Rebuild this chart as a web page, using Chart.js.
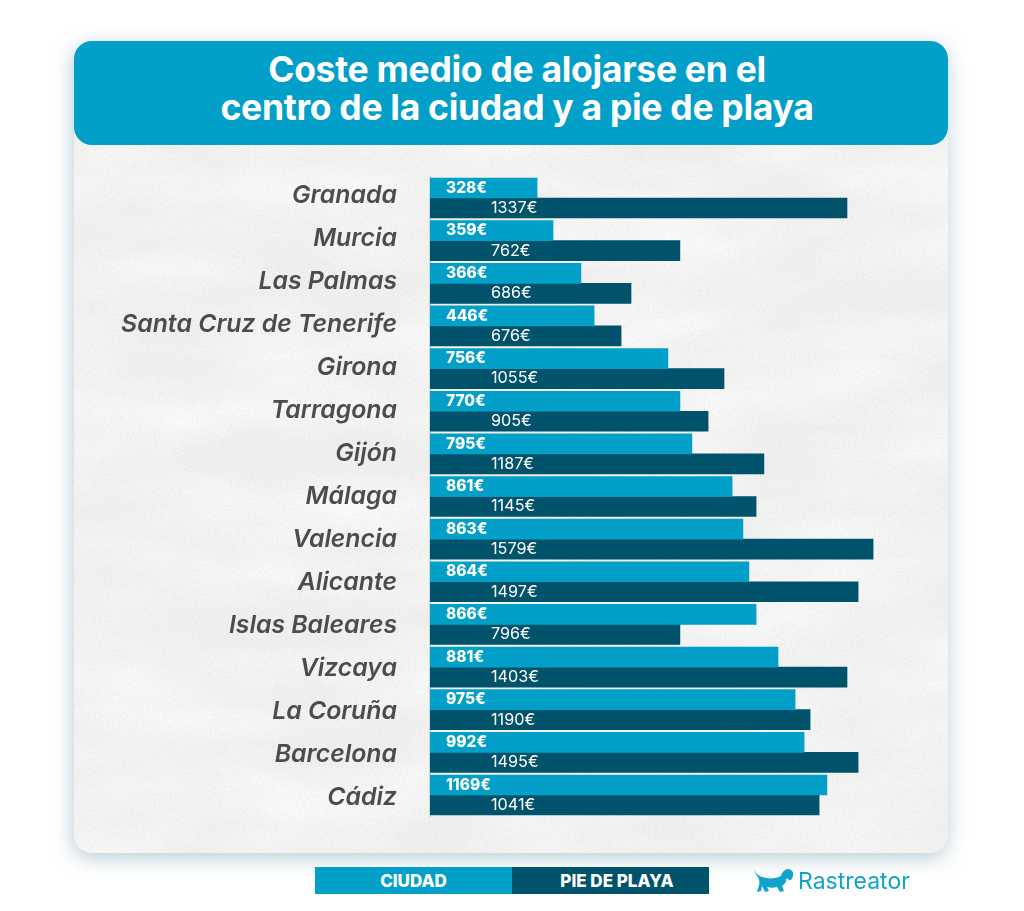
<!DOCTYPE html>
<html lang="es">
<head>
<meta charset="utf-8">
<title>Coste medio de alojarse</title>
<script src="https://cdn.jsdelivr.net/npm/chart.js@4"></script>
<style>
  html, body { margin: 0; padding: 0; background: #fff; }
  #page { position: relative; width: 1024px; height: 911px; overflow: hidden; background: #fff; }
  #card { position: absolute; left: 74px; top: 41px; width: 874px; height: 812px; border-radius: 18px;
    background: #f1f1f0; box-shadow: -1px 5px 20px rgba(60, 115, 140, 0.36); overflow: hidden; }
  #card svg { position: absolute; left: 0; top: 0; }
  #head { position: absolute; left: 74px; top: 41px; width: 874px; height: 104px; border-radius: 18px;
    background: #029fc9; color: #fff; text-align: center; font: 700 35.5px/38px Inter, sans-serif; letter-spacing: -0.3px; }
  #head div { padding: 10px 0 0 12px; }
  #chart { position: absolute; left: 0; top: 0; }
  #legend { position: absolute; left: 315px; top: 867px; display: flex; }
  #legend span { display: block; box-sizing: border-box; width: 197px; height: 27px; color: #fff; text-align: center;
    font: 800 17px/29px Inter, sans-serif; }
  #legend span + span { padding-left: 13px; }
  #brand { position: absolute; left: 753px; top: 866px; height: 30px; color: #12a3cc; font: 400 23px/30px Inter, sans-serif; padding-left: 45px; }
  #brand svg { position: absolute; left: 0; top: 2px; }
</style>
</head>
<body>
<div id="page">
  <div id="card">
    <svg width="874" height="812">
      <filter id="grain"><feTurbulence type="fractalNoise" baseFrequency="0.7" numOctaves="3" seed="4"/>
        <feColorMatrix values="0 0 0 0 0.45  0 0 0 0 0.45  0 0 0 0 0.45  0.4 0 0 0 -0.16"/></filter>
      <filter id="wrinkle"><feTurbulence type="fractalNoise" baseFrequency="0.006 0.018" numOctaves="3" seed="9"/>
        <feColorMatrix values="0 0 0 0 1  0 0 0 0 1  0 0 0 0 1  1.4 0 0 0 -0.45"/></filter>
      <rect width="874" height="812" filter="url(#wrinkle)"/>
      <rect width="874" height="812" filter="url(#grain)"/>
    </svg>
  </div>
  <div id="head"><div>Coste medio de alojarse en el<br>centro de la ciudad y a pie de playa</div></div>
  <canvas id="chart" width="1024" height="911"></canvas>
  <div id="legend"></div>
  <div id="brand">
    <svg width="42" height="26" viewBox="0 0 42 26"><path fill="#12a3cc" d="M1 1 C3 6 6 8 9 9 C15 11 23 11 28 8 C29 4 32 1 35 1 C38 1 41 4 40 7 C40 11 37 14 35 11 C34 9 33 11 33 13 C32 16 30 17 29 18 L31 23 L27 24 L24 19 C20 20 17 20 14 19 L16 23 L12 24 L9 18 L8 23 L4 24 L6 17 C7 14 6 11 5 9 C3 7 2 4 1 1 Z"/></svg>
    Rastreator
  </div>
</div>
<script>
var cities = ["Granada", "Murcia", "Las Palmas", "Santa Cruz de Tenerife", "Girona", "Tarragona", "Gijón", "Málaga", "Valencia", "Alicante", "Islas Baleares", "Vizcaya", "La Coruña", "Barcelona", "Cádiz"];
var seriesNames = ["CIUDAD", "PIE DE PLAYA"];
var seriesColors = ["#029fc9", "#00536a"];

// figures printed on the bars
var ciudadLabels = [328, 359, 366, 446, 756, 770, 795, 861, 863, 864, 866, 881, 975, 992, 1169];
var playaLabels = [1337, 762, 686, 676, 1055, 905, 1187, 1145, 1579, 1497, 796, 1403, 1190, 1495, 1041];

// the bars in the picture are not in proportion to their printed figures,
// so the drawn lengths are read off the bars separately
var ciudadBars = [357, 410, 503, 547, 793, 833, 873, 1007, 1043, 1063, 1087, 1160, 1217, 1247, 1323];
var playaBars = [1390, 833, 670, 637, 980, 927, 1113, 1087, 1477, 1427, 833, 1390, 1267, 1427, 1297];

var legendBox = document.getElementById('legend');
seriesNames.forEach(function (name, i) {
  var s = document.createElement('span');
  s.textContent = name;
  s.style.background = seriesColors[i];
  legendBox.appendChild(s);
});

// printed figures, left aligned inside each bar
var barText = {
  id: 'barText',
  afterDatasetsDraw: function (chart) {
    var c = chart.ctx;
    var left = chart.scales.x.getPixelForValue(0);
    c.save();
    c.fillStyle = '#fff';
    c.textBaseline = 'middle';
    c.font = '800 15.5px Inter, sans-serif';
    chart.getDatasetMeta(0).data.forEach(function (bar, i) {
      c.fillText(ciudadLabels[i] + '€', left + 16, bar.y);
    });
    c.font = '400 16.2px Inter, sans-serif';
    chart.getDatasetMeta(1).data.forEach(function (bar, i) {
      c.fillText(playaLabels[i] + '€', left + 61, bar.y);
    });
    c.restore();
  }
};

// city names: the reference spaces them a little wider than the bars
var cityText = {
  id: 'cityText',
  afterDraw: function (chart) {
    var c = chart.ctx;
    var y = chart.scales.y;
    c.save();
    c.fillStyle = '#4c4c50';
    c.textAlign = 'right';
    c.textBaseline = 'middle';
    c.font = 'italic 600 24.8px Inter, sans-serif';
    cities.forEach(function (name, i) {
      c.fillText(name, y.right - 33, y.getPixelForTick(i) - 2 + i * 0.36);
    });
    c.restore();
  }
};

var chart = new Chart(document.getElementById('chart').getContext('2d'), {
  type: 'bar',
  data: {
    labels: cities,
    datasets: [
      { label: seriesNames[0], data: ciudadBars, backgroundColor: seriesColors[0], barThickness: 20 },
      { label: seriesNames[1], data: playaBars, backgroundColor: seriesColors[1], barThickness: 20 }
    ]
  },
  options: {
    indexAxis: 'y',
    responsive: false,
    animation: false,
    layout: { padding: { top: 176.7, bottom: 94.7, right: 114 } },
    plugins: { legend: { display: false }, title: { display: false }, tooltip: { enabled: false } },
    scales: {
      x: { display: false, min: 0, max: 1600 },
      y: {
        afterFit: function (scale) { scale.width = 430; },
        grid: { drawOnChartArea: false, drawTicks: false },
        border: { color: '#c5dbe3', width: 2 },
        ticks: { display: false }
      }
    }
  },
  plugins: [barText, cityText]
});
</script>
</body>
</html>
